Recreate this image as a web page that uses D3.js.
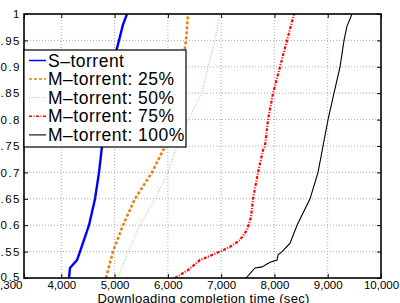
<!DOCTYPE html>
<html>
<head>
  <title>Downloading completion time CDF</title>
  <script src="https://d3js.org/d3.v7.min.js"></script>
  <style>
    body { margin: 0; background: #fff; }
    svg { display: block; font-family: "Liberation Sans", Arial, sans-serif; }
  </style>
</head>
<body>
  <svg id="chart" width="400" height="303"></svg>

  <script>
    // Data: [completion time (sec), CDF]
    var sTorrent = [
      [4145, 0.5], [4163, 0.519], [4295, 0.534], [4351, 0.55], [4520, 0.6],
      [4633, 0.65], [4708, 0.7], [4764, 0.75], [4820, 0.8], [4877, 0.85],
      [4952, 0.9], [5083, 0.95], [5158, 0.98], [5233, 1.0]
    ];
    var mTorrent25 = [
      [4839, 0.5], [4970, 0.55], [5158, 0.6], [5383, 0.65], [5703, 0.7],
      [5909, 0.742], [5984, 0.75], [6116, 0.8], [6209, 0.85], [6266, 0.9],
      [6341, 0.95], [6378, 1.0]
    ];
    var mTorrent50 = [
      [5064, 0.5], [5252, 0.55], [5477, 0.6], [5759, 0.65], [6003, 0.7],
      [6172, 0.75], [6378, 0.8], [6641, 0.85], [6754, 0.9], [6885, 0.95],
      [6979, 1.0]
    ];
    var mTorrent75 = [
      [6134, 0.5], [6378, 0.515], [6603, 0.534], [6979, 0.55], [7166, 0.559],
      [7354, 0.572], [7486, 0.591], [7561, 0.616], [7598, 0.65], [7692, 0.7],
      [7786, 0.742], [7823, 0.75], [7880, 0.8], [7974, 0.85], [8105, 0.9],
      [8236, 0.95], [8368, 1.0]
    ];
    var mTorrent100 = [
      [7467, 0.5], [7636, 0.519], [7767, 0.521], [7917, 0.53], [8049, 0.534],
      [8068, 0.544], [8143, 0.55], [8293, 0.566], [8424, 0.6], [8668, 0.65],
      [8818, 0.7], [8912, 0.75], [9006, 0.8], [9118, 0.85], [9231, 0.9],
      [9306, 0.95], [9362, 0.977], [9456, 1.0]
    ];

    var seriesNames = ["S\u2013torrent", "M\u2013torrent: 25%", "M\u2013torrent: 50%",
                       "M\u2013torrent: 75%", "M\u2013torrent: 100%"];
    var xTicks = [3300, 4000, 5000, 6000, 7000, 8000, 9000, 10000];
    var yTicks = [0.5, 0.55, 0.6, 0.65, 0.7, 0.75, 0.8, 0.85, 0.9, 0.95, 1];
    var xTitle = "Downloading completion time (sec)";

    var styles = [
      { color: "#0000ff", width: 2.4, dash: null },
      { color: "#e8800f", width: 2.5, dash: "3,2" },
      { color: "#8cd08c", width: 1, dash: "1,1.5" },
      { color: "#ff0000", width: 2.2, dash: "3,1.5,1,1.5" },
      { color: "#000000", width: 1.1, dash: null }
    ];
    var allSeries = [sTorrent, mTorrent25, mTorrent50, mTorrent75, mTorrent100];

    var plotL = 24, plotR = 381, plotT = 14, plotB = 278;
    var svg = d3.select("#chart");

    var x = d3.scaleLinear().domain([3300, 10000]).range([plotL, plotR]);
    var y = d3.scaleLinear().domain([0.5, 1]).range([plotB, plotT]);

    // Grid
    svg.append("g").selectAll("line")
      .data(xTicks.filter(function(d) { return d > 3300 && d < 10000; }))
      .enter().append("line")
      .attr("x1", function(d) { return x(d); }).attr("x2", function(d) { return x(d); })
      .attr("y1", plotT).attr("y2", plotB)
      .attr("stroke", "#aaa").attr("stroke-width", 1).attr("stroke-dasharray", "1,2");
    svg.append("g").selectAll("line")
      .data(yTicks.filter(function(d) { return d > 0.5 && d < 1; }))
      .enter().append("line")
      .attr("y1", function(d) { return y(d); }).attr("y2", function(d) { return y(d); })
      .attr("x1", plotL).attr("x2", plotR)
      .attr("stroke", "#aaa").attr("stroke-width", 1).attr("stroke-dasharray", "1,2");

    // Curves
    svg.append("clipPath").attr("id", "plot")
      .append("rect").attr("x", plotL).attr("y", plotT)
      .attr("width", plotR - plotL).attr("height", plotB - plotT);

    var line = d3.line()
      .x(function(d) { return x(d[0]); })
      .y(function(d) { return y(d[1]); });

    svg.append("g").attr("clip-path", "url(#plot)")
      .selectAll("path")
      .data(allSeries)
      .enter().append("path")
      .attr("d", line)
      .attr("fill", "none")
      .attr("stroke", function(d, i) { return styles[i].color; })
      .attr("stroke-width", function(d, i) { return styles[i].width; })
      .attr("stroke-dasharray", function(d, i) { return styles[i].dash; });

    // Axes (inward ticks on all sides)
    var xAxis = d3.axisBottom(x).tickValues(xTicks).tickSize(-4).tickPadding(3)
      .tickFormat(d3.format(","));
    var gx = svg.append("g").attr("transform", "translate(0," + plotB + ")").call(xAxis);
    gx.selectAll("text").attr("font-size", 11.5).attr("fill", "#000")
      .attr("font-family", "Liberation Sans, Arial, sans-serif");
    gx.selectAll(".tick").filter(function(d) { return d === 3300; }).select("text")
      .attr("text-anchor", "end").attr("x", -2);
    gx.select(".domain").remove();

    svg.append("g").attr("transform", "translate(0," + plotT + ")")
      .call(d3.axisTop(x).tickValues(xTicks).tickSize(-4).tickFormat(""))
      .select(".domain").remove();

    var yAxis = d3.axisLeft(y).tickValues(yTicks).tickSize(-4).tickPadding(3)
      .tickFormat(function(d) { return d === 1 ? "1" : String(d); });
    var gy = svg.append("g").attr("transform", "translate(" + plotL + ",0)").call(yAxis);
    gy.selectAll("text").attr("font-size", 11.5).attr("fill", "#000")
      .attr("font-family", "Liberation Sans, Arial, sans-serif")
      .attr("letter-spacing", "1.5");
    gy.selectAll(".tick").filter(function(d) { return d === 0.5; }).select("text")
      .attr("dy", "0.2em");
    gy.select(".domain").remove();

    svg.append("g").attr("transform", "translate(" + plotR + ",0)")
      .call(d3.axisRight(y).tickValues(yTicks).tickSize(-4).tickFormat(""))
      .select(".domain").remove();

    svg.append("rect")
      .attr("x", plotL).attr("y", plotT)
      .attr("width", plotR - plotL).attr("height", plotB - plotT)
      .attr("fill", "none").attr("stroke", "#000").attr("stroke-width", 1.6);

    // Axis title
    svg.append("text")
      .attr("x", (plotL + plotR) / 2 + 1)
      .attr("y", 302.5)
      .attr("text-anchor", "middle")
      .attr("font-size", 13)
      .attr("letter-spacing", "0.3")
      .text(xTitle);

    // Legend
    var legend = svg.append("g");
    legend.append("rect")
      .attr("x", plotL).attr("y", 50)
      .attr("width", 186 - plotL).attr("height", 97)
      .attr("fill", "#fff").attr("stroke", "#000").attr("stroke-width", 1.2);

    var rows = legend.selectAll("g.row")
      .data(seriesNames)
      .enter().append("g")
      .attr("class", "row")
      .attr("transform", function(d, i) { return "translate(0," + (60.5 + i * 18.6) + ")"; });
    rows.append("line")
      .attr("x1", 29).attr("x2", 46)
      .attr("stroke", function(d, i) { return styles[i].color; })
      .attr("stroke-width", function(d, i) { return Math.min(styles[i].width, 1.5); })
      .attr("stroke-dasharray", function(d, i) { return styles[i].dash; });
    rows.append("text")
      .attr("x", 48).attr("y", 6)
      .attr("font-size", 17.5)
      .attr("letter-spacing", "0.5")
      .text(function(d) { return d; });
  </script>
</body>
</html>
